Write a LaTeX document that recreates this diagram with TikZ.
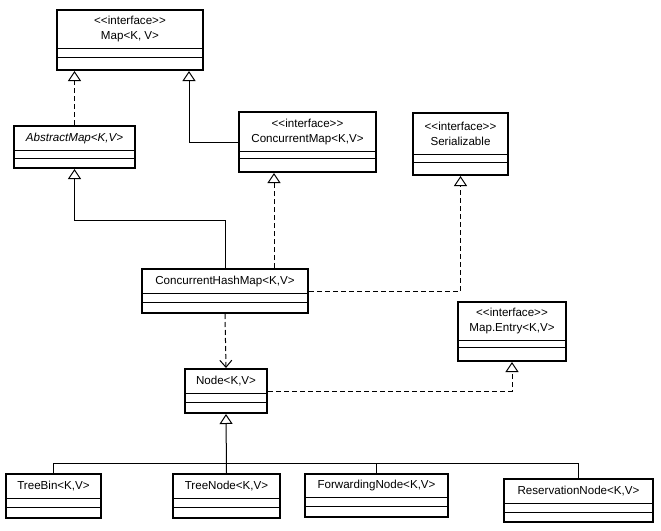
\documentclass[tikz,border=0pt]{standalone}
\usepackage{fontspec}
\setmainfont{Liberation Sans}
\usepackage{xcolor}
\usepackage{tikz}
\usetikzlibrary{
  arrows.meta,
  calc,
  positioning
}
\definecolor{umlink}{RGB}{0,0,0}
\tikzset{
  classbox/.style={draw=umlink,line width=2pt,fill=white,inner sep=0pt},
  classtext/.style={align=center,inner sep=0pt,text=umlink,
    font=\fontsize{11.6}{15}\selectfont},
  sepline/.style={draw=umlink,line width=1pt},
  plainline/.style={draw=umlink,line width=1pt},
  generalize/.style={-{Triangle[open,length=10pt,width=13pt]},
    line width=1pt,draw=umlink},
  realize/.style={-{Triangle[open,length=10pt,width=13pt]},
    line width=1pt,draw=umlink,dash pattern=on 5pt off 3pt},
  depend/.style={-{Straight Barb[length=7pt,width=12pt]},
    line width=1pt,draw=umlink,dash pattern=on 5pt off 3pt}
}
\newcommand{\stereo}[1]{<{}<#1>{}>}
% name, left, top, right, bottom, first and second compartment lines, title
\newcommand{\umlclass}[8]{%
  \node[classbox,minimum width={(#4-#2)*1pt},minimum height={(#5-#3)*1pt}]
    (#1) at ({(#2+#4)/2},{(#3+#5)/2}) {};
  \node[classtext] (#1-title) at ({(#2+#4)/2},{(#3+#6)/2}) {#8};
  \draw[sepline] (#1.west |- 0,#6) -- (#1.east |- 0,#6);
  \draw[sepline] (#1.west |- 0,#7) -- (#1.east |- 0,#7);
}

\begin{document}
\begin{tikzpicture}[x=1pt,y=-1pt]
  \useasboundingbox (0,0) rectangle (661,530);

  \umlclass{map}{57}{10}{203}{70}{48}{57}{\stereo{interface}\\Map<K, V>}
  \umlclass{absmap}{14}{126}{135}{168}{150}{158}{\textit{AbstractMap<K,V>}}
  \umlclass{cmap}{239}{112}{376}{172}{151}{158}{\stereo{interface}\\ConcurrentMap<K,V>}
  \umlclass{serial}{413}{113}{508}{175}{154}{162}{\stereo{interface}\\Serializable}
  \umlclass{chm}{142}{269}{308}{313}{293}{302}{ConcurrentHashMap<K,V>}
  \umlclass{entry}{458}{302}{566}{361}{340}{347}{\stereo{interface}\\Map.Entry<K,V>}
  \umlclass{node}{185}{369}{267}{413}{393}{402}{Node<K,V>}
  \umlclass{treebin}{6}{474}{101}{518}{498}{507}{TreeBin<K,V>}
  \umlclass{treenode}{173}{474}{280}{518}{498}{507}{TreeNode<K,V>}
  \umlclass{fwdnode}{305}{474}{448}{517}{497}{506}{ForwardingNode<K,V>}
  \umlclass{resnode}{504}{479}{653}{522}{503}{512}{ReservationNode<K,V>}

  \draw[realize] (absmap.north) -- (absmap.north |- map.south);
  \draw[generalize] (cmap.west) -| (189,0 |- map.south);
  \draw[generalize] (chm.north) |- (absmap.south |- 0,220) -- (absmap.south);
  \draw[realize] (274,0 |- chm.north) -- (274,0 |- cmap.south);
  \draw[realize] (chm.east) -| (serial.south);
  \draw[depend] (chm.south) -- (node.north);
  \draw[realize] (node.east) -| (entry.south);

  \coordinate (bus) at (0,463);
  \draw[plainline] (treebin.north) |- (resnode.north |- bus) -- (resnode.north);
  \foreach \x in {fwdnode}
    \draw[plainline] (\x.north) -- (\x.north |- bus);
  \draw[generalize] (treenode.north) -- (node.south);
\end{tikzpicture}
\end{document}
